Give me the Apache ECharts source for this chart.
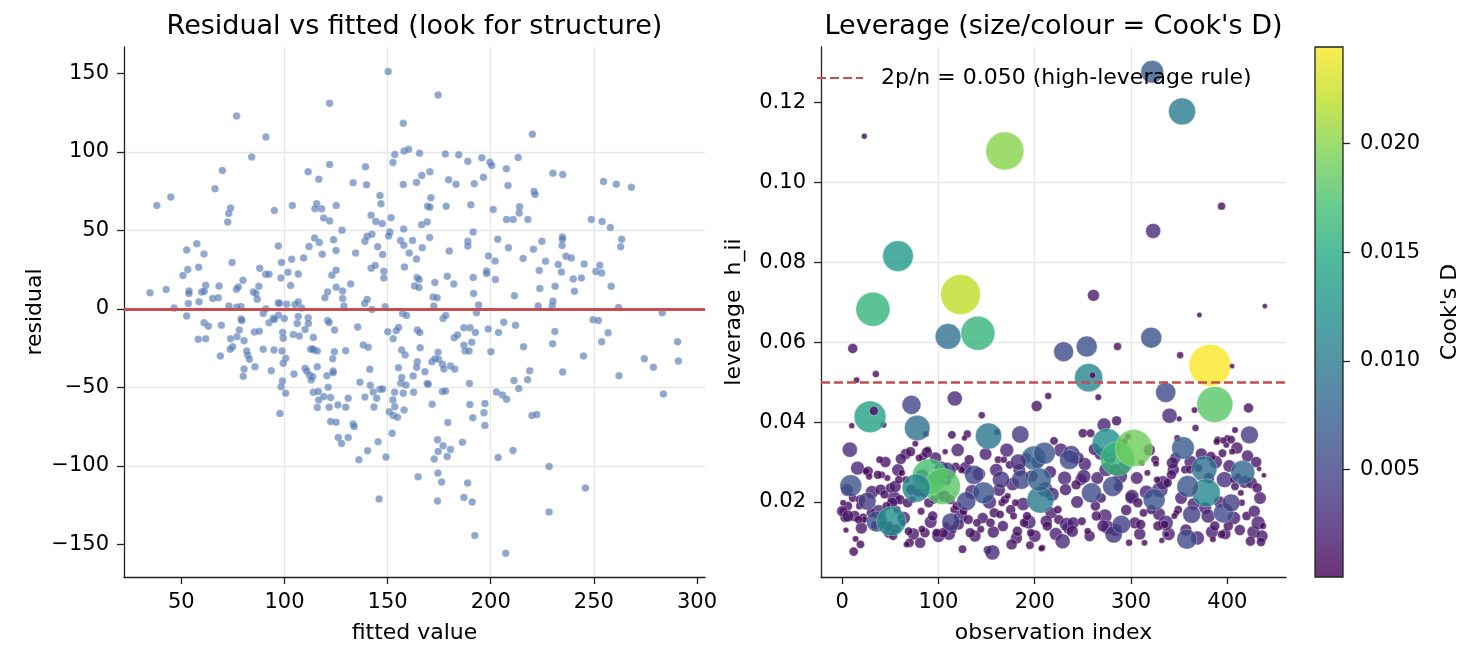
<!DOCTYPE html>
<html>
<head>
<meta charset="utf-8">
<title>Residual and leverage diagnostics</title>
<script src="https://cdn.jsdelivr.net/npm/echarts@6/dist/echarts.min.js"></script>
<style>
  html, body { margin: 0; padding: 0; background: #fff; }
  #main { width: 1468px; height: 662px; }
</style>
</head>
<body>
<div id="main"></div>
<script>
// residual vs fitted, one pair per observation: [fitted value, residual]
const residualPoints = [
  [76.8,122.9],[91,109.5],[84.1,96.8],[69.9,88.1],[66.3,76.5],[111.5,87.3],[116.7,82.6],[38.1,65.9],[44.9,71.2],[73.9,64.2],
  [73,60.8],[72.5,55.3],[95.1,62.7],[103.8,65.9],[115.6,67],[114.8,63.8],[57.5,41.5],[52.6,37.5],[61,34.9],[74.6,29.5],
  [58.4,26.5],[53.1,25],[50.8,21.2],[61.8,15],[53.7,11.4],[53.7,9.8],[59.9,10.8],[61.1,11.2],[68.3,14.6],[42.6,12.3],
  [34.8,10.2],[53.4,3.4],[58.6,4.5],[65.2,6.6],[67.9,7],[46.5,0.6],[52.6,-4.6],[73.1,1.9],[76.8,1],[78.9,1.5],
  [79,-6.5],[79.9,18.2],[76.7,12.5],[77.6,14],[88,25.9],[90.9,22],[92.5,22],[84.9,10.8],[86.2,9.8],[87.6,14.4],
  [86.8,6.2],[91,0],[89.7,-3],[94.6,-6],[97,40],[98.6,29.5],[98.3,19.7],[101.7,23.3],[103,14.9],[103.5,31.6],
  [106.7,22.2],[109.3,32.4],[111.9,39.8],[114.6,45.1],[116.9,42.3],[97,3.8],[97.6,3.5],[101.1,3],[105.1,2.8],[106.7,4.4],
  [108.3,0.5],[97.1,-4],[99.9,-6.2],[106.7,-4.8],[111.5,-5.7],
  [61,-8.9],[63.1,-11],[69.4,-10.4],[58.2,-19.4],[61.8,-19.1],[68.9,-30],[78.1,-13.5],[73.9,-19],[77,-17.8],[80.4,-20.3],
  [74.9,-24.1],[73.7,-25.8],[81.7,-26.9],[82.2,-29.4],[83,-32.1],[80.4,-38.3],[80,-43],[85.7,-36.8],[79.3,-7.4],[85.4,-14.8],
  [87.8,-14.2],[89.7,-25.8],[92.5,-8.9],[95.1,-6.7],[93.6,-39.4],[94.9,-26.2],[99.1,-15],[99.4,-18.8],[98.8,-26.9],[100.6,-31.5],
  [99.4,-34.7],[99,-45.9],[98.4,-49.6],[100.6,-53.7],[97.8,-66.7],[104.6,-41.5],[104.3,-16.3],[107.2,-17.3],[106.2,-9.3],[110,-13.1],
  [111.6,-9.3],[114,-18.2],[112.7,-25.8],[114.3,-26.2],[115.9,-26.9],[110,-37.9],[110.8,-39.6],[112.1,-42.1],[113.7,-43.2],[112.9,-45.3],
  [115.9,-36.8],[114,-53.1],[116.4,-52.7],[115.9,-62.9],[116.6,-58],
  [150.3,151.2],[121.9,130.9],[174.5,136.2],[157.6,118.2],[153.5,98.3],[158,100.6],[160.2,101.7],[152.6,93.2],[165.5,99.1],[178,98.7],
  [184.5,98.1],[188.9,94],[195.7,96.2],[199.6,93.4],[200.5,91.3],[207.6,89.2],[208.4,78.6],[121.9,91.9],[139.3,90.5],[133.3,80.3],
  [139.8,79],[146.3,72.2],[146.8,67],[157.6,79.2],[164,80.5],[166.6,84.9],[170.5,87.3],[179.6,82.2],[183.2,79.4],[192,79.7],
  [196.5,83.9],[118,63.8],[125.1,65.9],[119,57.8],[121.9,55.9],[142,59.7],[144.3,55.7],[147.4,54.3],[151.7,58.1],[151.1,48.9],
  [150.5,46.4],[157.8,50.8],[166.5,53.6],[169.2,55.3],[171,70.8],[169.4,65.4],[170.5,64.8],[178.4,65.4],[190.4,66.3],[201.2,63.3],
  [207.7,57],[127.9,50],[123.8,44.1],[125,37.1],[118.3,34.8],[134.5,35.6],[139,43],[140.1,46.2],[142.4,47.5],[145.2,39.6],
  [147.6,34.6],[156.3,43.6],[157.9,40.5],[162.1,43.6],[160.5,35.6],[164,31.8],[166.8,39],[170.4,45.4],[179.9,36.9],[188.9,43],
  [188.9,40],[191.5,48.9],[203.4,44.3],[208.6,39],[198.9,33.7],[202.1,30.5],[198,24.1],[198,22.5],[202.3,18.7],[142,25.9],
  [144,27.6],[148.2,24],[148.2,19.7],[158.2,26.7],[164.3,19.9],[165.3,18.7],[163.1,14.6],[165.2,13.6],[172.9,16.8],[178.9,20.8],
  [182.1,15.9],[191.5,19.9],[191.7,9.8],[194.1,2.5],[193.1,-2.5],[123,21.4],[125,24.6],[120.9,10.8],[119.6,7],[125.1,13.8],
  [128.2,11.4],[128.2,6.6],[132.1,15.9],[128.8,1.9],[121,-7.4],[138.9,3.4],[140.1,6],[142.4,-0.4],[148.8,1.3],[172.1,7.6],
  [174,7],[172.4,1.9],[157.3,-3],[159.2,-4.2],[176.9,-6.1],[178.2,-4.2],
  [121.6,-8.7],[124.3,-13.5],[135.5,-11.6],[113.7,-25.6],[124.2,-27.3],[123.4,-31.8],[129.7,-26.7],[120.6,-42.6],[123.6,-39.6],[123.6,-40.7],
  [119.1,-55.9],[121.2,-49.9],[122.4,-56.5],[121.7,-62.6],[125.9,-61.2],[129.7,-62.6],[130.9,-56.9],[122.4,-71.8],[125,-72.2],[133.3,-73.4],
  [133.8,-75],[126.1,-82],[127.7,-85.8],[130.9,-82],[136.1,-96.1],[140.3,-90.4],[145.4,-84.7],[149.2,-94.4],[145.9,-121.1],[138.2,-23],
  [140.6,-24.5],[141.4,-38.5],[136.6,-46.8],[139,-56.1],[141.6,-48.7],[143,-52.9],[144.7,-56.9],[143.4,-62.5],[146.3,-51.2],[147.6,-51],
  [150.1,-14.6],[152.7,-19.1],[154.2,-14],[155.3,-11.8],[156.8,-26.2],[158.5,-29.4],[155.3,-37.5],[156.9,-43.8],[156.4,-47.4],[158.9,-48.5],
  [153.4,-53.1],[157.6,-53.7],[152.6,-58],[153.5,-62.3],[158,-64.4],[150.8,-65.6],[152.7,-68],[154.8,-69],[152.2,-79.2],[164.4,-13.5],
  [165.6,-15],[165.8,-24.8],[164.4,-33.7],[164.1,-37.2],[162.4,-42.8],[162.6,-53.1],[168.1,-40],[169.2,-47.6],[169.7,-48],[171.6,-60.7],
  [171.5,-33.7],[172.9,-31.8],[174.5,-27.7],[174.7,-32.1],[176.6,-35.3],[177.3,-38.3],[180.5,-36.4],[182.6,-38.5],[176.6,-52.7],[178.1,-52.3],
  [179.2,-72.4],[174.2,-83.4],[176.9,-87.2],[174.5,-90.8],[172.6,-95.7],[178.9,-94],[180.5,-89.6],[164.8,-106.9],[174.4,-104.6],[176.2,-110.3],
  [174.2,-122.4],[182.3,-18.4],[183.9,-16.7],[187,-12.1],[190,-12.1],[192.6,-15],[190.8,-21.2],[187,-23.1],[187.6,-26.9],[189.5,-26.9],
  [186.3,-85],[189.7,-47.6],[189.9,-61],[191.3,-69.4],[188.8,-111],[187,-120.1],[191,-123],[192.3,-144.4],[196.7,-66.1],[197.2,-60.3],
  [197.2,-74.3],[198.8,-12.9],[203.8,-15],[206.3,-8.6],[200.1,-27.3],[202.8,-52.9],[205.7,-54.8],[207.7,-57.6],[203.6,-94.7],[207.3,-155.6],
  [223,1.9],[229.8,1.9],[230.2,4.9],[262,0.9],[283.2,-2.5],[212,-10.4],[215.9,-24.1],[231.1,-14.4],[230,-22.2],[249.6,-7],
  [252.2,-7.4],[256.9,-15.2],[253.8,-21],[245,-30],[234.9,-40.2],[218.9,-39.4],[217.9,-45.1],[211.3,-45.7],[213.6,-50.8],[220,-68],
  [222.3,-67.3],[210.8,-90.2],[228.3,-100.4],[245.9,-114.1],[228.3,-129.4],[262.2,-42.6],[274.5,-31.8],[278.9,-37.2],[290.6,-21],[291,-33.2],
  [283.7,-54.2],
  [220.2,111.2],[213.3,96.4],[230.2,86.4],[234.9,85.6],[221,74.8],[221.5,72.9],[254.7,81.1],[260.9,79.4],[268.2,77.5],[214,65.1],
  [213.8,61],[210.9,57],[218,57],[248.8,57],[254,55.7],[258,51.9],[220.7,37.9],[224.8,43],[215.7,32],[234.8,45.7],
  [234.8,44.3],[234.6,40.3],[263.5,44.3],[263,39.6],[226.6,30.3],[223.5,24.4],[232.7,28.2],[234.3,23.5],[236.5,33.5],[239.1,32.4],
  [245.3,28.6],[240,19.1],[244,19.7],[252.9,27.8],[251,23.8],[253.8,22.9],[258.4,14.4],[223.8,13],[231.2,14.4],[240.6,11.2],
  [211.5,8.3]
];

// leverage plot, one triple per observation: [observation index, leverage h_ii, Cook's D]
const leveragePoints = [
  [5,0.0230,0.002],[16,0.0285,0.0025],[20,0.0135,0.0018],[31,0.0225,0.0022],[38,0.0175,0.0028],[45,0.0300,0.0015],
  [49,0.0125,0.002],[54,0.0210,0.0025],[58,0.0280,0.002],[64,0.0160,0.0022],[66,0.0320,0.0015],[74,0.0120,0.0018],
  [83,0.0265,0.0025],[92,0.0150,0.002],[97,0.0310,0.0018],[100,0.0115,0.0022],[103,0.0285,0.0025],[108,0.0255,0.0015],
  [111,0.0120,0.002],[120,0.0330,0.0022],[123,0.0165,0.0025],[128,0.0285,0.002],[135,0.0225,0.0028],[138,0.0115,0.0018],
  [142,0.0270,0.0022],[146,0.0160,0.0015],[149,0.0320,0.002],[153,0.0200,0.0025],[157,0.0125,0.0018],[160,0.0280,0.0022],
  [163,0.0230,0.002],[167,0.0140,0.0015],[171,0.0330,0.0025],[177,0.0245,0.0022],[181,0.0110,0.0018],[184,0.0280,0.002],
  [188,0.0195,0.0022],[191,0.0310,0.0015],[194,0.0150,0.0025],[197,0.0265,0.0018],[200,0.0115,0.002],[203,0.0300,0.0022],
  [216,0.0275,0.002],[222,0.0120,0.0022],[227,0.0330,0.0025],[235,0.0135,0.0018],[244,0.0200,0.002],[252,0.0295,0.0022],
  [257,0.0115,0.0015],[265,0.0260,0.002],[268,0.0320,0.0018],[273,0.0165,0.0025],[278,0.0310,0.0018],[284,0.0130,0.002],
  [292,0.0285,0.0022],[295,0.0180,0.0015],[306,0.0260,0.002],[309,0.0120,0.0018],[316,0.0225,0.0025],[319,0.0330,0.0018],
  [329,0.0170,0.002],[339,0.0120,0.0022],[346,0.0310,0.0015],[352,0.0210,0.002],[357,0.0130,0.0018],[362,0.0300,0.0022],
  [365,0.0195,0.002],[369,0.0110,0.0025],[373,0.0320,0.0018],[377,0.0185,0.002],[381,0.0260,0.0015],[384,0.0125,0.002],
  [388,0.0300,0.0022],[392,0.0200,0.0018],[398,0.0120,0.0015],[402,0.0290,0.002],[407,0.0160,0.0022],[410,0.0335,0.0018],
  [413,0.0130,0.0015],[418,0.0250,0.002],[421,0.0315,0.0018],[427,0.0125,0.002],[430,0.0300,0.0015],[434,0.0210,0.002],
  [436,0.0115,0.0018],
  [1,0.0177,0.0006],[6,0.0190,0.001],[3,0.0161,0.0012],[11,0.0210,0.0008],[19,0.0206,0.0012],[18,0.0190,0.0006],
  [13,0.0165,0.0015],[22,0.0161,0.0009],[27,0.0277,0.0012],[28,0.0264,0.0005],[41,0.0268,0.0006],[47,0.0260,0.0004],
  [40,0.0231,0.0015],[44,0.0219,0.0009],[50,0.0235,0.0012],[55,0.0239,0.0018],[59,0.0256,0.0008],[62,0.0273,0.0005],
  [66,0.0256,0.0006],[72,0.0231,0.0015],[79,0.0223,0.0008],[60,0.0206,0.0012],[52,0.0198,0.0015],[46,0.0190,0.0008],
  [57,0.0181,0.0006],[68,0.0198,0.0012],[73,0.0206,0.0005],[85,0.0223,0.001],[90,0.0198,0.0012],[95,0.0206,0.0009],
  [82,0.0177,0.0006],[94,0.0165,0.0012],[102,0.0215,0.0008],[106,0.0215,0.0018],[112,0.0206,0.0012],[116,0.0181,0.0006],
  [119,0.0190,0.001],[126,0.0177,0.0008],[131,0.0156,0.0012],[121,0.0144,0.0015],[115,0.0132,0.0008],[108,0.0140,0.0006],
  [105,0.0123,0.0012],[98,0.0123,0.0009],[86,0.0123,0.0012],[83,0.0132,0.0006],[69,0.0127,0.0008],[63,0.0148,0.0005],
  [56,0.0132,0.0012],[53,0.0115,0.0009],[42,0.0144,0.0006],[30,0.0173,0.001],[34,0.0142,0.0008],[48,0.0140,0.0012],
  [23,0.0156,0.0005],[17,0.0156,0.0008],[133,0.0123,0.0012],[140,0.0148,0.0008],[144,0.0132,0.0006],[154,0.0148,0.001],
  [158,0.0173,0.0012],[164,0.0169,0.0008],[166,0.0198,0.0006],[169,0.0206,0.0009],[175,0.0181,0.0012],[178,0.0165,0.0006],
  [189,0.0148,0.001],[196,0.0123,0.0008],[182,0.0127,0.0012],[192,0.0165,0.0009],[180,0.0198,0.0006],[172,0.0215,0.0004],
  [162,0.0306,0.0006],[168,0.0306,0.0005],[174,0.0293,0.0008],[132,0.0306,0.0012],[124,0.0281,0.0006],[118,0.0289,0.0008],
  [89,0.0331,0.0005],[84,0.0314,0.0008],[80,0.0310,0.0006],[39,0.0306,0.0006],[37,0.0268,0.0009],[25,0.0277,0.0006],
  [220,0.0353,0.0008],[250,0.0372,0.001],[258,0.0372,0.0008],[262,0.0332,0.0018],[274,0.0281,0.0025],[269,0.0210,0.0012],
  [300,0.0210,0.0018],[272,0.0393,0.0025],[285,0.0403,0.0012],[397,0.0256,0.0034],[330,0.0231,0.0034],
  [333,0.0248,0.0026],[336,0.0148,0.003],[245,0.0310,0.0018],
  [276,0.0136,0.0025],[271,0.0140,0.0018],[298,0.0098,0.0005],[314,0.0098,0.0004],
  [304,0.0148,0.0018],[310,0.0144,0.0012],[328,0.0140,0.0012],[335,0.0144,0.0008],[332,0.0104,0.0003],[337,0.0119,0.0003],
  [349,0.0181,0.0008],[347,0.0173,0.0004],[345,0.0165,0.0004],[380,0.0165,0.0025],[387,0.0140,0.0012],[385,0.0107,0.0004],
  [394,0.0119,0.0008],[401,0.0140,0.0012],[415,0.0198,0.0005],[420,0.0165,0.001],[424,0.0102,0.0012],[435,0.0100,0.001],
  [428,0.0177,0.0018],[432,0.0148,0.0025],[437,0.0140,0.0005],[425,0.0248,0.0018],[431,0.0235,0.0012],[438,0.0267,0.0002],
  [433,0.0283,0.0002],[408,0.0239,0.0008],[414,0.0223,0.0004],[406,0.0256,0.0005],[411,0.0264,0.0004],[383,0.0314,0.0012],
  [395,0.0322,0.0008],[399,0.0343,0.0004],[390,0.0356,0.0005],[400,0.0360,0.0004],[405,0.0326,0.0004],[356,0.0281,0.0008],
  [361,0.0281,0.0008],[370,0.0285,0.0008],[344,0.0281,0.0018],[343,0.0298,0.0018],[342,0.0268,0.0012],[338,0.0248,0.001],
  [325,0.0306,0.0008],[326,0.0296,0.0004],[317,0.0273,0.0004],[327,0.0256,0.0005],[348,0.0360,0.0004],[293,0.0351,0.0005],
  [297,0.0364,0.0004],[311,0.0298,0.0004],[301,0.0214,0.0025],[307,0.0198,0.0012],[313,0.0173,0.0008],[321,0.0181,0.0012],
  [287,0.0239,0.0012],[283,0.0281,0.0018],[289,0.0264,0.0025],[248,0.0256,0.0018],[243,0.0243,0.0012],[251,0.0264,0.0025],
  [241,0.0306,0.0008],[231,0.0260,0.0025],[232,0.0231,0.0018],[217,0.0173,0.0018],[225,0.0156,0.0012],
  [233,0.0144,0.0025],[240,0.0148,0.0018],[239,0.0127,0.0018],[229,0.0102,0.003],[255,0.0127,0.0005],[249,0.0152,0.0008],
  [264,0.0165,0.0012],[263,0.0190,0.0012],[212,0.0152,0.0018],[224,0.0181,0.0008],[213,0.0140,0.0012],[208,0.0086,0.0004],
  [211,0.0231,0.003],[218,0.0219,0.0025],[367,0.0385,0.0005],[408,0.0380,0.0004],[404,0.0356,0.0008],
  [396,0.0354,0.0005],[389,0.0351,0.0005],
  [0,0.0177,0.0015],[6,0.0165,0.0018],[1,0.0198,0.0004],[4,0.0130,0.0003],[14,0.0108,0.0004],[12,0.0076,0.001],
  [19,0.0094,0.0008],[81,0.0098,0.0015],[70,0.0098,0.001],[67,0.0094,0.0004],[125,0.0082,0.0008],[151,0.0080,0.0008],
  [176,0.0094,0.0015],[195,0.0092,0.0008],[207,0.0084,0.0004],[156,0.0074,0.003],
  [114,0.0368,0.0008],[130,0.0370,0.0007],[127,0.0360,0.0003],[107,0.0326,0.0003],[88,0.0324,0.0015],[71,0.0326,0.0012],
  [76,0.0346,0.0004],[61,0.0308,0.0015],[10,0.0391,0.0003],[43,0.0393,0.0004],[87,0.0370,0.0004],[161,0.0375,0.0004],
  [145,0.0417,0.0005],[214,0.0465,0.0005],[202,0.0440,0.0015],[266,0.0462,0.0004],[350,0.0408,0.0003],[366,0.0430,0.0004],
  [9,0.0241,0.0065],[26,0.0202,0.0043],[36,0.0151,0.006],[113,0.0150,0.0045],[137,0.0268,0.005],[147,0.0223,0.0065],
  [129,0.0202,0.0048],[165,0.0256,0.004],[186,0.0256,0.005],[199,0.0310,0.008],[210,0.0322,0.0065],[206,0.0206,0.010],
  [109,0.0277,0.0043],[99,0.0261,0.003],[183,0.0300,0.0035],[205,0.0256,0.0075],[8,0.0331,0.003],[72,0.0443,0.0049],
  [78,0.0385,0.009],[117,0.0459,0.003],[152,0.0365,0.0095],[185,0.0369,0.004],
  [91,0.0264,0.017],[104,0.0239,0.018],[77,0.0235,0.011],[51,0.0152,0.012],[29,0.0413,0.014],[33,0.0428,0.001],
  [354,0.0335,0.007],[376,0.0283,0.009],[416,0.0274,0.008],[378,0.0223,0.011],[359,0.0239,0.0065],
  [396,0.0173,0.0055],[404,0.0198,0.0043],[358,0.0107,0.0055],[363,0.0169,0.0043],[324,0.0206,0.0065],
  [281,0.0239,0.0055],[259,0.0223,0.0055],[238,0.0320,0.004],[236,0.0306,0.0053],[282,0.0119,0.004],[290,0.0144,0.0045],
  [275,0.0347,0.012],[286,0.0308,0.016],[303,0.0335,0.019],[340,0.0416,0.003],[336,0.0474,0.0055],[423,0.0368,0.0043],
  [387,0.0444,0.018],[422,0.0435,0.0012],
  [322,0.1276,0.007],[353,0.1177,0.010],[23,0.1115,0.0003],[169,0.1078,0.020],[394,0.0940,0.0007],[323,0.0878,0.003],
  [58,0.0815,0.013],[123,0.0719,0.022],[32,0.0682,0.016],[261,0.0717,0.0018],[371,0.0668,0.0002],[439,0.0690,0.0002],
  [110,0.0614,0.0091],[141,0.0622,0.016],[11,0.0584,0.0012],[230,0.0576,0.0054],[254,0.0589,0.006],[286,0.0589,0.0007],
  [321,0.0611,0.006],[351,0.0567,0.0005],[382,0.0542,0.0245],[405,0.0540,0.0002],[256,0.0511,0.011],[260,0.0517,0.0004],
  [15,0.0505,0.0004],[35,0.0520,0.0005]
];

const nObs = 440;
const nParams = 11;
const leverageRule = 2 * nParams / nObs;
const ruleName = '2p/n = ' + leverageRule.toFixed(3) + ' (high-leverage rule)';

const fittedTicks = [50, 100, 150, 200, 250, 300];
const residualTicks = [-150, -100, -50, 0, 50, 100, 150];
const indexTicks = [0, 100, 200, 300, 400];
const leverageTicks = [0.02, 0.04, 0.06, 0.08, 0.10, 0.12];
const cookTicks = [0.005, 0.010, 0.015, 0.020];

const viridis = ['#440154','#482475','#414487','#355f8d','#2a788e','#21918c','#22a884','#44bf70','#7ad151','#bddf26','#fde725'];
// same stops at 80% opacity over white, for the colour bar
const viridisBar = ['#693476','#6d5091','#67699f','#5d7fa4','#5593a5','#4da7a3','#4eb99d','#69cc8d','#95da74','#cae551','#fdec51'];

const font = 'DejaVu Sans';
const ink = '#222';
const red = '#c44e52';
const gridLine = {show: true, showMinLine: false, showMaxLine: false, lineStyle: {color: '#e8e8e8', width: 1.3}};

function minusSign(v) {
  return v < 0 ? '\u2212' + Math.abs(v) : String(v);
}

function valueAxis(gridIndex, min, max, ticks, name, nameGap, fmt) {
  return {
    type: 'value', gridIndex: gridIndex, min: min, max: max,
    name: name, nameLocation: 'middle', nameGap: nameGap,
    nameTextStyle: {fontFamily: font, fontSize: 22, color: '#000'},
    axisLine: {show: true, onZero: false, lineStyle: {color: ink, width: 1.3}},
    axisTick: {show: true, length: 7, customValues: ticks, lineStyle: {color: ink, width: 1.3}},
    axisLabel: {show: true, customValues: ticks, margin: 15, fontFamily: font, fontSize: 21, color: '#000',
      formatter: fmt || minusSign},
    splitLine: gridLine
  };
}

let cbarFill = {type: 'linear', x: 0, y: 1, x2: 0, y2: 0,
  colorStops: viridisBar.map((c, i) => ({offset: i / (viridisBar.length - 1), color: c}))};

let titleStyle = {fontFamily: font, fontSize: 27, fontWeight: 'normal', color: '#000'};

let cbarAxis = valueAxis(2, 0.00006, 0.02445, cookTicks, "Cook's D", 96, v => v.toFixed(3));
cbarAxis.position = 'right';
cbarAxis.axisLine = {show: false, onZero: false};
cbarAxis.splitLine = {show: false};
cbarAxis.axisLabel.margin = 17;

let option = {
  backgroundColor: '#fff',
  animation: false,
  title: [
    {text: 'Residual vs fitted (look for structure)', left: 414.5, top: 13, textAlign: 'center', padding: 0, textStyle: titleStyle},
    {text: "Leverage (size/colour = Cook's D)", left: 1053.5, top: 13, textAlign: 'center', padding: 0, textStyle: titleStyle}
  ],
  legend: {
    data: [ruleName],
    left: 816, top: 67, padding: 0, itemWidth: 46, itemHeight: 14,
    itemStyle: {color: 'rgba(0,0,0,0)', borderColor: 'rgba(0,0,0,0)', borderWidth: 0},
    textStyle: {fontFamily: font, fontSize: 22, color: '#000', padding: [0, 0, 0, 13]}
  },
  grid: [
    {left: 124, top: 47, width: 581, height: 530},
    {left: 821, top: 47, width: 465, height: 530},
    {left: 1315, top: 47, width: 28, height: 530, show: true, backgroundColor: cbarFill, borderColor: ink, borderWidth: 1.3}
  ],
  xAxis: [
    valueAxis(0, 22.2, 303.9, fittedTicks, 'fitted value', 45),
    valueAxis(1, -21.95, 460.95, indexTicks, 'observation index', 45),
    {type: 'value', gridIndex: 2, min: 0, max: 1, show: false}
  ],
  yAxis: [
    valueAxis(0, -170.8, 166.8, residualTicks, 'residual', 78),
    valueAxis(1, 0.00125, 0.1338, leverageTicks, 'leverage  h_ii', 76, v => v.toFixed(2)),
    cbarAxis
  ],
  visualMap: [{
    type: 'continuous', show: false, seriesIndex: 1, dimension: 2,
    min: 0.00006, max: 0.02445, inRange: {color: viridis}
  }],
  series: [
    {
      type: 'scatter', xAxisIndex: 0, yAxisIndex: 0, data: residualPoints,
      symbolSize: 7.5,
      itemStyle: {color: '#4c72b0', opacity: 0.62, borderColor: '#fff', borderWidth: 0.3},
      markLine: {silent: true, symbol: 'none', label: {show: false},
        lineStyle: {color: red, width: 3, type: 'solid'}, data: [{yAxis: 0}]},
      z: 3
    },
    {
      type: 'scatter', xAxisIndex: 1, yAxisIndex: 1, data: leveragePoints,
      symbolSize: v => Math.sqrt(12 + 71500 * v[2]),
      itemStyle: {opacity: 0.8, borderColor: '#fff', borderWidth: 0.4},
      z: 3
    },
    {
      name: ruleName,
      type: 'line', xAxisIndex: 1, yAxisIndex: 1, data: [], symbol: 'none',
      lineStyle: {color: red, width: 2.5, type: [9, 4]},
      itemStyle: {color: red},
      markLine: {silent: true, symbol: 'none', label: {show: false},
        lineStyle: {color: red, width: 2.5, type: [9, 4]}, data: [{yAxis: leverageRule}]},
      z: 4
    }
  ]
};

let myChart = echarts.init(document.getElementById('main'));
myChart.setOption(option);
</script>
</body>
</html>
